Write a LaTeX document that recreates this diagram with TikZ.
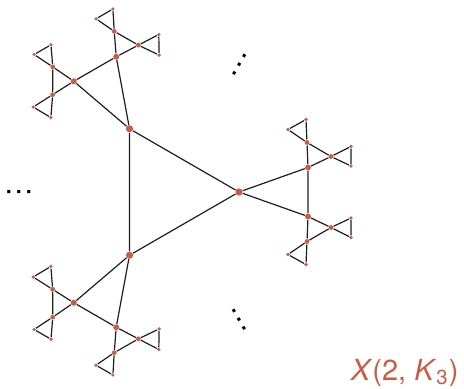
\documentclass[tikz,border=0pt]{standalone}
\usepackage{fontspec}
\setmainfont{TeX Gyre Heros}
\usetikzlibrary{backgrounds}

\definecolor{vertexred}{RGB}{201,92,66}
\definecolor{edgegray}{RGB}{30,30,30}

\begin{document}
\begin{tikzpicture}[
    x=0.5pt, y=0.5pt,
    vtx/.style={circle, fill=vertexred, draw=none, inner sep=0pt},
    hubvtx/.style={vtx, minimum size=3.6pt},
    midvtx/.style={vtx, minimum size=3pt},
    innvtx/.style={vtx, minimum size=2.4pt},
    leafvtx/.style={vtx, minimum size=1.8pt},
    edge/.style={draw=edgegray, line width=0.6pt},
    dotrow/.style={inner sep=0pt, font=\fontsize{15}{15}\selectfont}
]

\useasboundingbox (-166,-196) rectangle (298,192);

% one branch, turned three times by 120 degrees
\foreach \k/\ang in {a/0, b/120, c/240} {
  \begin{scope}[rotate=\ang]
    \node[hubvtx] (hub-\k) at (73,0) {};
    \foreach \s/\sg in {u/1, l/-1} {
      \node[midvtx] (mid-\k-\s) at (142,\sg*24.5) {};
      \node[innvtx] (near-\k-\s) at (141,\sg*49.5) {};
      \node[innvtx] (far-\k-\s) at (165,\sg*35.5) {};
      % leaves
      \node[leafvtx] (near-\k-\s-1) at (140,\sg*72.5) {};
      \node[leafvtx] (near-\k-\s-2) at (122,\sg*62.5) {};
      \node[leafvtx] (far-\k-\s-1) at (185,\sg*45.5) {};
      \node[leafvtx] (far-\k-\s-2) at (185,\sg*26) {};
    }
  \end{scope}
}

% edges behind the vertices
\begin{scope}[on background layer]
  \draw[edge] (hub-a) -- (hub-b) -- (hub-c) -- (hub-a);
  \foreach \k in {a,b,c} {
    \draw[edge] (hub-\k) -- (mid-\k-u) -- (mid-\k-l) -- (hub-\k);
    \foreach \s in {u,l} {
      \draw[edge] (mid-\k-\s) -- (near-\k-\s) -- (far-\k-\s) -- (mid-\k-\s);
      \draw[edge] (near-\k-\s) -- (near-\k-\s-1) -- (near-\k-\s-2) -- (near-\k-\s);
      \draw[edge] (far-\k-\s) -- (far-\k-\s-1) -- (far-\k-\s-2) -- (far-\k-\s);
    }
  }
\end{scope}

% ellipses between the branches
\foreach \ang in {60,180,300}
  \node[dotrow, rotate=\ang] (dots-\ang) at (\ang:147) {…};

\node[text=vertexred, anchor=base east, font=\fontsize{14.5}{16}\selectfont]
  (title) at (299.5,-188) {\textit{X}(2, \textit{K}\textsubscript{3})};

\end{tikzpicture}
\end{document}
